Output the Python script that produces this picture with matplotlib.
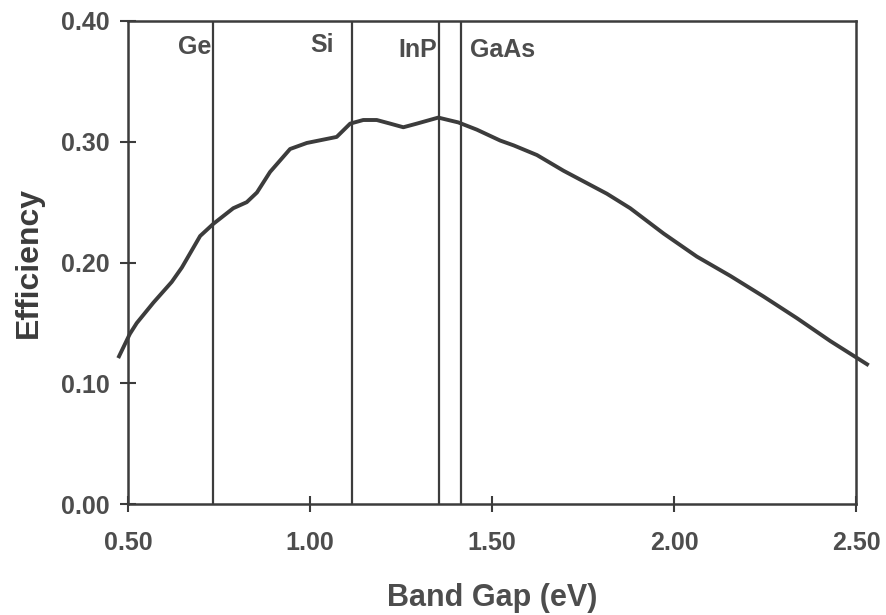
import matplotlib
matplotlib.use("Agg")
import matplotlib.pyplot as plt

# Theoretical single-junction efficiency vs. band gap
band_gap = [0.473, 0.505, 0.524, 0.570, 0.620, 0.648, 0.698, 0.734, 0.789, 0.826,
            0.854, 0.890, 0.945, 0.991, 1.073, 1.110, 1.146, 1.183, 1.220, 1.256,
            1.293, 1.352, 1.407, 1.458, 1.522, 1.559, 1.623, 1.696, 1.815, 1.879,
            1.971, 2.062, 2.154, 2.245, 2.337, 2.429, 2.534]
efficiency = [0.121, 0.141, 0.150, 0.167, 0.184, 0.196, 0.222, 0.232, 0.245, 0.250,
              0.258, 0.275, 0.294, 0.299, 0.304, 0.315, 0.318, 0.318, 0.315, 0.312,
              0.315, 0.320, 0.316, 0.310, 0.301, 0.297, 0.289, 0.276, 0.257, 0.245,
              0.224, 0.205, 0.189, 0.172, 0.154, 0.135, 0.115]

materials = ["Ge", "Si", "InP", "GaAs"]
material_gaps = [0.734, 1.115, 1.354, 1.415]

x_ticks = [0.50, 1.00, 1.50, 2.00, 2.50]
y_ticks = [0.00, 0.10, 0.20, 0.30, 0.40]

ink = "#3c3c3c"
text_gray = "#4d4d4d"
plt.rcParams["font.family"] = ["Liberation Sans", "DejaVu Sans"]

fig = plt.figure(figsize=(8.86, 6.15), dpi=100)
ax = fig.add_axes([0.1445, 0.180, 0.822, 0.786])

ax.plot(band_gap, efficiency, color=ink, lw=2.8, clip_on=False,
        solid_capstyle="butt", solid_joinstyle="round", zorder=3)

for gap in material_gaps:
    ax.axvline(gap, color=ink, lw=1.6, zorder=2)

# material names beside their lines
label_offsets = {"Ge": (-0.004, 0.378, "right"),
                 "Si": (-0.083, 0.380, "center"),
                 "InP": (-0.004, 0.376, "right"),
                 "GaAs": (0.025, 0.376, "left")}
for name, gap in zip(materials, material_gaps):
    dx, ypos, ha = label_offsets[name]
    ax.text(gap + dx, ypos, name, ha=ha, va="center", fontsize=18,
            fontweight="bold", color=text_gray)

ax.set_xlim(0.5, 2.5)
ax.set_ylim(0.0, 0.4)
ax.set_xticks(x_ticks)
ax.set_yticks(y_ticks)
ax.set_xticklabels([f"{v:.2f}" for v in x_ticks])
ax.set_yticklabels([f"{v:.2f}" for v in y_ticks])
ax.tick_params(direction="inout", length=11, width=1.5, color=ink,
               labelsize=18, labelcolor=text_gray)
ax.tick_params(axis="x", pad=14)
ax.tick_params(axis="y", pad=8)
for lab in ax.get_xticklabels() + ax.get_yticklabels():
    lab.set_fontweight("bold")

for sp in ax.spines.values():
    sp.set_color(ink)
    sp.set_linewidth(1.8)

ax.set_xlabel("Band Gap (eV)", fontsize=22, fontweight="bold",
              color=text_gray, labelpad=20)
ax.set_ylabel("Efficiency", fontsize=23, fontweight="bold",
              color=ink, labelpad=12)

fig.savefig("out.png", dpi=100)
